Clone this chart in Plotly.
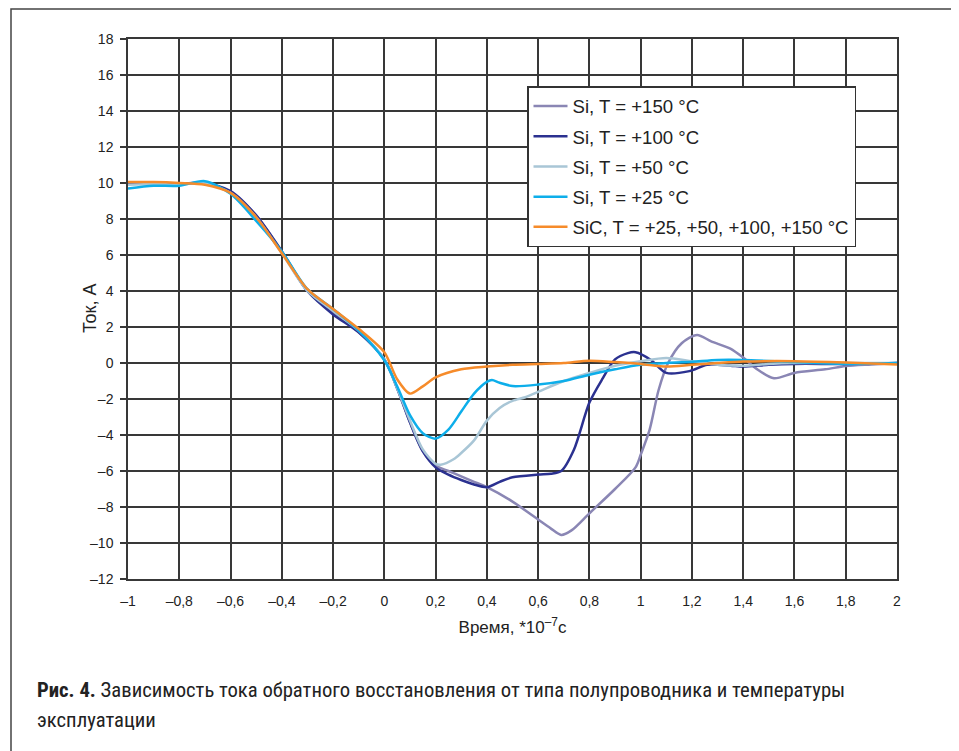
import plotly.graph_objects as go

# ---- data ----
x_common = [-1.0, -0.9, -0.8, -0.7, -0.6, -0.5, -0.4, -0.3, -0.2, -0.1, 0.0]

si150_x = x_common + [0.05, 0.1, 0.15, 0.2, 0.25, 0.3, 0.35, 0.4, 0.5, 0.6, 0.65, 0.69, 0.73, 0.8, 0.9, 0.98, 1.0, 1.035, 1.07, 1.107, 1.16, 1.22, 1.275, 1.35, 1.4, 1.45, 1.52, 1.6, 1.72, 1.8, 1.9, 2.0]
si150_y = [10.0, 10.0, 9.95, 10.0, 9.5, 8.2, 6.2, 4.0, 2.8, 1.7, 0.2,
           -1.4, -3.3, -4.9, -5.7, -6.0, -6.3, -6.6, -6.9, -7.7, -8.7, -9.2, -9.55, -9.3, -8.35, -7.0, -5.8, -5.1, -3.7, -1.5, 0.0, 1.1, 1.56, 1.2, 0.8, 0.3, -0.3, -0.85, -0.55, -0.35, -0.17, -0.08, 0.0]

si100_x = x_common + [0.05, 0.1, 0.15, 0.2, 0.25, 0.3, 0.35, 0.4, 0.45, 0.5, 0.6, 0.65, 0.69, 0.74, 0.8, 0.85, 0.9, 0.95, 0.98, 1.04, 1.1, 1.19, 1.26, 1.35, 1.4, 1.5, 1.6, 1.8, 2.0]
si100_y = [10.0, 10.0, 9.95, 10.0, 9.55, 8.2, 6.2, 4.0, 2.7, 1.7, 0.2,
           -1.4, -3.3, -4.9, -5.8, -6.2, -6.5, -6.75, -6.9, -6.6, -6.35, -6.2, -6.15, -6.0, -4.8, -2.2, -0.9, 0.2, 0.55, 0.6, 0.17, -0.55, -0.45, -0.1, -0.15, -0.2, -0.1, -0.05, -0.05, 0.0]

si50_x = x_common + [0.05, 0.1, 0.15, 0.2, 0.22, 0.27, 0.3, 0.35, 0.4, 0.45, 0.5, 0.55, 0.6, 0.7, 0.8, 0.9, 1.0, 1.1, 1.2, 1.3, 1.4, 1.5, 1.6, 1.8, 2.0]
si50_y = [9.9, 9.95, 9.9, 10.0, 9.45, 8.1, 6.1, 4.0, 2.9, 1.8, 0.2,
          -1.4, -3.2, -4.8, -5.6, -5.65, -5.35, -5.0, -4.3, -3.2, -2.5, -2.1, -1.9, -1.6, -1.0, -0.55, -0.15, 0.1, 0.28, 0.1, -0.1, -0.15, -0.05, 0.0, 0.0, 0.0]

si25_x = x_common + [0.05, 0.1, 0.15, 0.2, 0.25, 0.3, 0.35, 0.4, 0.42, 0.45, 0.5, 0.6, 0.7, 0.8, 0.9, 1.0, 1.2, 1.3, 1.4, 1.6, 1.8, 2.0]
si25_y = [9.7, 9.85, 9.85, 10.1, 9.4, 7.9, 6.2, 4.1, 3.0, 1.8, 0.15,
          -1.3, -2.9, -3.9, -4.2, -3.7, -2.7, -1.7, -1.05, -0.95, -1.1, -1.28, -1.2, -1.0, -0.65, -0.35, -0.1, 0.07, 0.17, 0.17, 0.05, -0.05, 0.0]

sic_x = x_common + [0.05, 0.1, 0.15, 0.2, 0.3, 0.4, 0.5, 0.6, 0.7, 0.8, 0.9, 1.0, 1.1, 1.2, 1.3, 1.4, 1.6, 1.8, 2.0]
sic_y = [10.05, 10.05, 10.0, 9.9, 9.45, 8.1, 6.1, 4.1, 3.0, 1.9, 0.6,
         -0.9, -1.7, -1.3, -0.8, -0.35, -0.2, -0.1, -0.05, 0.0, 0.13, 0.05, -0.05, -0.2, -0.1, 0.0, 0.08, 0.1, 0.03, -0.08]

names = ["Si, T = +150 °C", "Si, T = +100 °C", "Si, T = +50 °C", "Si, T = +25 °C",
         "SiC, T = +25, +50, +100, +150 °C"]
colors = ["#8A86B4", "#2B3190", "#A9C6D6", "#0DAEEA", "#F68B2A"]
series = [(si150_x, si150_y), (si100_x, si100_y), (si50_x, si50_y), (si25_x, si25_y), (sic_x, sic_y)]

x_ticks = [-1, -0.8, -0.6, -0.4, -0.2, 0, 0.2, 0.4, 0.6, 0.8, 1, 1.2, 1.4, 1.6, 1.8, 2]
x_tick_labels = ["\u20131", "\u20130,8", "\u20130,6", "\u20130,4", "\u20130,2", "0", "0,2", "0,4", "0,6", "0,8", "1", "1,2", "1,4", "1,6", "1,8", "2"]
y_ticks = list(range(-12, 19, 2))
y_tick_labels = [("\u2013" + str(-v)) if v < 0 else str(v) for v in y_ticks]

FONT = "Liberation Sans, Arial, sans-serif"

# plot area in layout pixels (left, right, top, bottom)
PL, PR, PT, PB = 120, 889, 31, 571
PW, PH = PR - PL, PB - PT

fig = go.Figure()
for i, ((xs, ys), n, c) in enumerate(zip(series, names, colors)):
    fig.add_trace(go.Scatter(x=xs, y=ys, mode="lines", name=n, legendgroup=f"g{i}",
                             line=dict(color=c, width=2.5, shape="spline", smoothing=0.8)))

grid_col = "#383838"
fig.update_layout(
    width=959, height=751,
    paper_bgcolor="white", plot_bgcolor="white",
    margin=dict(l=PL, r=959 - PR, t=PT, b=751 - PB),
    font=dict(family=FONT, size=14, color="#222222"),
    showlegend=True,
    legend=dict(x=(519 - PL) / PW, y=(PB - 78) / PH, xanchor="left", yanchor="top",
                bordercolor="#333333", borderwidth=1.5, bgcolor="white",
                font=dict(size=18.6, family=FONT, color="#222222"),
                tracegroupgap=3, traceorder="grouped",
                itemwidth=34),
    xaxis=dict(range=[-1, 2], tickvals=x_ticks, ticktext=x_tick_labels,
               showgrid=True, gridcolor=grid_col, gridwidth=1.5,
               showline=True, linecolor=grid_col, linewidth=1.5, mirror=True,
               zeroline=False, ticks="", tickfont=dict(size=14), ticklabelstandoff=8,
               title=dict(text="Время, *10<sup>\u20137</sup>с", font=dict(size=17), standoff=14)),
    yaxis=dict(range=[-12, 18], tickvals=y_ticks, ticktext=y_tick_labels,
               showgrid=True, gridcolor=grid_col, gridwidth=1.5,
               showline=True, linecolor=grid_col, linewidth=1.5, mirror=True,
               zeroline=False, ticks="outside", ticklen=6, tickcolor=grid_col, tickwidth=1.5,
               tickfont=dict(size=14), ticklabelstandoff=4),
)

# y-axis title
fig.add_annotation(xref="paper", yref="paper", x=(82 - PL) / PW, y=0.5,
                   xanchor="center", yanchor="middle", showarrow=False, textangle=-90,
                   text="Ток, А", font=dict(family=FONT, size=18, color="#222222"))

# outer frame
fig.add_shape(type="rect", xref="paper", yref="paper",
              x0=(3 - PL) / PW, x1=(951 - PL) / PW,
              y0=(PB - 770) / PH, y1=(PB - 1) / PH,
              line=dict(color="#444444", width=1.5), layer="below")

# caption
CAP_FONT = "Liberation Sans Narrow, Roboto Condensed, Roboto, sans-serif"
fig.add_annotation(xref="paper", yref="paper", x=(27 - PL) / PW, y=(PB - 682) / PH,
                   xanchor="left", yanchor="middle", showarrow=False, align="left",
                   text="<b>Рис. 4.</b> Зависимость тока обратного восстановления от типа полупроводника и температуры",
                   font=dict(family=CAP_FONT, size=20.7, color="#222222"))
fig.add_annotation(xref="paper", yref="paper", x=(27 - PL) / PW, y=(PB - 712) / PH,
                   xanchor="left", yanchor="middle", showarrow=False, align="left",
                   text="эксплуатации",
                   font=dict(family=CAP_FONT, size=20.7, color="#222222"))

fig.write_html("out.html")
